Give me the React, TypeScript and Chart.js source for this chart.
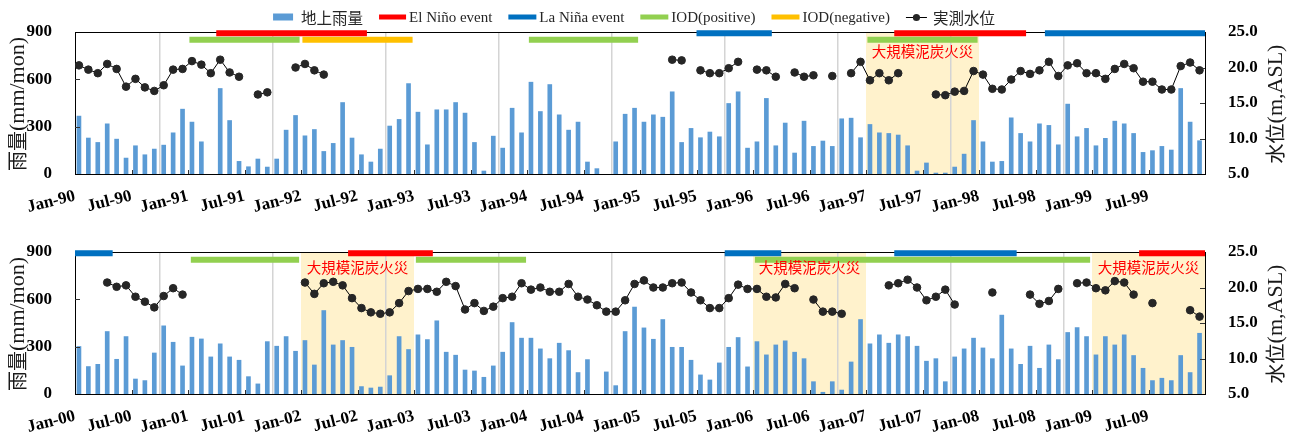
import React, { useEffect, useRef } from 'react';
import { Chart, registerables } from 'chart.js';

Chart.register(...registerables);

// ---------------- DATA ----------------
// monthly ground rainfall (mm/mon), Jan-1990 .. Dec-1999
const rain1990s: (number | null)[] = [
  367, 228, 200, 318, 221, 101, 179, 122, 158, 183, 261, 411,
  329, 204, null, 542, 339, 80, 46, 95, 44, 95, 278, 371,
  242, 282, 143, 194, 453, 228, 122, 76, 158, 304, 346, 573,
  392, 185, 407, 407, 453, 386, 200, 19, 240, 164, 417, 261,
  582, 396, 567, 375, 278, 329, 76, 34, null, 204, 379, 417,
  329, 375, 360, 521, 200, 289, 230, 266, 236, 447, 521, 164,
  204, 479, 179, 323, 133, 335, 175, 209, 175, 350, 354, 230,
  314, 261, 257, 247, 179, 19, 70, 6, 6, 44, 126, 339,
  204, 76, 80, 356, 257, 204, 318, 308, 185, 443, 236, 289,
  179, 226, 335, 318, 257, 137, 148, 175, 152, 542, 329, 211,
];

// measured water level (m,ASL), Jan-1990 .. Dec-1999
const level1990s: (number | null)[] = [
  20.3, 19.7, 19.2, 20.5, 19.8, 17.3, 18.4, 17.2, 16.7, 17.5, 19.7, 19.8,
  20.9, 20.4, 19.2, 21.1, 19.3, 18.7, null, 16.2, 16.5, null, null, 20.0,
  20.5, 19.6, 19.0, null, null, null, null, null, null, null, null, null,
  null, null, null, null, null, null, null, null, null, null, null, null,
  null, null, null, null, null, null, null, null, null, null, null, null,
  null, null, null, 21.1, 21.0, null, 19.6, 19.2, 19.2, 19.9, 20.8, null,
  19.7, 19.6, 18.7, null, 19.3, 18.7, 18.9, null, 18.8, null, 19.2, 20.8,
  18.2, 19.2, 18.2, 19.2, null, null, null, 16.2, 16.1, 16.6, 16.7, 19.5,
  19.0, 17.0, 16.9, 18.3, 19.5, 19.1, 19.6, 20.8, 18.8, 20.3, 20.6, 19.2,
  19.2, 18.4, 19.8, 20.5, 19.9, 18.0, 18.0, 16.9, 16.9, 20.2, 20.7, 19.6,
];

// monthly ground rainfall (mm/mon), Jan-2000 .. Dec-2009
const rain2000s: (number | null)[] = [
  301, 174, 188, 396, 220, 364, 95, 85, 260, 432, 328, 178,
  360, 349, 235, 318, 235, 214, 110, 64, 332, 303, 364, 271,
  339, 184, 529, 311, 339, 296, 47, 38, 44, 116, 364, 282,
  375, 345, 464, 265, 246, 152, 146, 106, 178, 265, 453, 354,
  354, 286, 224, 322, 275, 136, 218, null, 140, 53, 396, 551,
  419, 347, 472, 296, 296, 214, 121, 89, 197, 296, 358, 172,
  332, 248, 311, 337, 265, 224, 78, 11, 78, 25, 203, 472,
  318, 375, 322, 375, 364, 303, 208, 224, 78, 235, 286, 354,
  292, 224, 500, 286, 188, 303, 163, 311, 218, 390, 421, 364,
  248, 364, 311, 375, 244, 163, 85, 100, 85, 244, 136, 385,
];

// measured water level (m,ASL), Jan-2000 .. Dec-2009
const level2000s: (number | null)[] = [
  null, null, null, 20.7, 20.1, 20.3, 18.7, 18.0, 17.2, 18.8, 19.9, 19.0,
  null, null, null, null, null, null, null, null, null, null, null, null,
  20.7, 19.1, 20.6, 20.8, 20.3, 18.5, 17.1, 16.5, 16.3, 16.5, 17.8, 19.5,
  19.8, 19.8, 19.4, 20.8, 20.2, 16.9, 17.8, 16.7, 17.3, 18.5, 18.7, 20.6,
  19.7, 20.0, 19.4, 19.4, 20.5, 18.7, 18.3, 17.5, 16.6, 16.6, 18.2, 20.5,
  21.0, 20.0, 20.0, 20.6, 20.7, 19.3, 18.2, 17.1, 17.1, 18.5, 20.4, 19.8,
  19.8, 18.7, 18.6, 20.5, 19.9, null, 18.3, 16.6, 16.6, 16.3, null, null,
  null, null, 20.3, 20.6, 21.1, 20.0, 18.2, 18.7, 19.7, 17.6, null, null,
  null, 19.3, null, null, null, 19.0, 17.7, 18.1, 19.8, null, 20.6, 20.7,
  19.9, 19.6, 20.9, 20.7, 19.0, null, 17.8, null, null, null, 16.8, 15.9,
];

// x tick labels (every 6 months)
const ticks1990s = [
  'Jan-90', 'Jul-90', 'Jan-91', 'Jul-91', 'Jan-92', 'Jul-92', 'Jan-93', 'Jul-93', 'Jan-94', 'Jul-94',
  'Jan-95', 'Jul-95', 'Jan-96', 'Jul-96', 'Jan-97', 'Jul-97', 'Jan-98', 'Jul-98', 'Jan-99', 'Jul-99',
];
const ticks2000s = [
  'Jan-00', 'Jul-00', 'Jan-01', 'Jul-01', 'Jan-02', 'Jul-02', 'Jan-03', 'Jul-03', 'Jan-04', 'Jul-04',
  'Jan-05', 'Jul-05', 'Jan-06', 'Jul-06', 'Jan-07', 'Jul-07', 'Jan-08', 'Jul-08', 'Jan-09', 'Jul-09',
];
const rainTicks = [0, 300, 600, 900];
const levelTicks = [5, 10, 15, 20, 25];

// event periods, in months from the start of each decade [start, end]
const elNino1990s = [[15, 31], [87, 101]];
const laNina1990s = [[66, 74], [103, 120]];
const iodPos1990s = [[12.15, 23.85], [48.2, 59.8], [84.15, 95.85]];
const iodNeg1990s = [[24.15, 35.85]];
const fires1990s = [[84, 96]];

const elNino2000s = [[29, 38], [113, 120]];
const laNina2000s = [[0, 4], [69, 75], [87, 100]];
const iodPos2000s = [[12.3, 23.8], [36.2, 47.9], [72.2, 107.8]];
const iodNeg2000s: number[][] = [];
const fires2000s = [[24, 36], [72, 84], [108, 120]];

const fireLabel = '大規模泥炭火災';
const rainName = '地上雨量';
const levelName = '実測水位';
const elNinoName = 'El Niño event';
const laNinaName = 'La Niña event';
const iodPosName = 'IOD(positive)';
const iodNegName = 'IOD(negative)';

// ---------------- STYLE ----------------
const SERIF = '"Liberation Serif", "Times New Roman", serif';
const CJK = '"Noto Sans CJK JP", "Noto Sans CJK SC", sans-serif';
const C_RAIN = '#5B9BD5';
const C_ELNINO = '#FF0000';
const C_LANINA = '#0070C0';
const C_IODPOS = '#92D050';
const C_IODNEG = '#FFC000';
const C_FIRE = '#FFF2CC';
const BAR_OFFSET = 0.42;
const ROW1 = 892;
const ROW2 = 851;

function segs(periods: number[][], y: number) {
  const out: { x: number; y: number | null }[] = [];
  periods.forEach(([a, b]) => {
    out.push({ x: a, y }, { x: b, y }, { x: b, y: null });
  });
  return out;
}

function drawTitle(ctx: CanvasRenderingContext2D, cx: number, cy: number, cjk: string, latin: string) {
  ctx.save();
  ctx.translate(cx, cy);
  ctx.rotate(-Math.PI / 2);
  ctx.fillStyle = '#1a1a1a';
  ctx.textBaseline = 'middle';
  ctx.textAlign = 'left';
  const f1 = `20px ${CJK}`;
  const f2 = `22px ${SERIF}`;
  ctx.font = f1;
  const w1 = ctx.measureText(cjk).width;
  ctx.font = f2;
  const w2 = ctx.measureText(latin).width;
  const start = -(w1 + w2) / 2;
  ctx.font = f1;
  ctx.fillText(cjk, start, 0);
  ctx.font = f2;
  ctx.fillText(latin, start + w1, 1);
  ctx.restore();
}

function drawLegend(ctx: CanvasRenderingContext2D, cy: number, center: number) {
  type Item = { kind: 'rect' | 'bar' | 'marker'; color: string; w: number; h: number; gap: number; label: string; font: string };
  const items: Item[] = [
    { kind: 'rect', color: C_RAIN, w: 20, h: 7, gap: 8, label: rainName, font: `15.5px ${CJK}` },
    { kind: 'bar', color: C_ELNINO, w: 27, h: 5, gap: 3, label: elNinoName, font: `15px ${SERIF}` },
    { kind: 'bar', color: C_LANINA, w: 28, h: 5, gap: 3, label: laNinaName, font: `15px ${SERIF}` },
    { kind: 'bar', color: C_IODPOS, w: 28, h: 5, gap: 3, label: iodPosName, font: `15px ${SERIF}` },
    { kind: 'bar', color: C_IODNEG, w: 28, h: 5, gap: 3, label: iodNegName, font: `15px ${SERIF}` },
    { kind: 'marker', color: '#262626', w: 21, h: 0, gap: 6, label: levelName, font: `15.5px ${CJK}` },
  ];
  const between = 16;
  ctx.save();
  const widths = items.map((it) => {
    ctx.font = it.font;
    return it.w + it.gap + ctx.measureText(it.label).width;
  });
  const total = widths.reduce((a, b) => a + b, 0) + between * (items.length - 1);
  let x = center - total / 2;
  items.forEach((it, k) => {
    if (it.kind === 'marker') {
      ctx.strokeStyle = '#000';
      ctx.lineWidth = 1;
      ctx.beginPath();
      ctx.moveTo(x, cy + 0.5);
      ctx.lineTo(x + it.w, cy + 0.5);
      ctx.stroke();
      ctx.fillStyle = it.color;
      ctx.beginPath();
      ctx.arc(x + it.w / 2, cy + 0.5, 3.6, 0, Math.PI * 2);
      ctx.fill();
    } else {
      ctx.fillStyle = it.color;
      ctx.fillRect(x, cy - it.h / 2, it.w, it.h);
    }
    ctx.font = it.font;
    ctx.fillStyle = '#262626';
    ctx.textAlign = 'left';
    ctx.textBaseline = 'middle';
    ctx.fillText(it.label, x + it.w + it.gap, cy + 1);
    x += widths[k] + between;
  });
  ctx.restore();
}

function makeDecor(fires: number[][], labelDy: number, withLegend: boolean) {
  return {
    id: 'panelDecor',
    beforeDraw(chart: any) {
      const { ctx, chartArea: a, scales } = chart;
      ctx.save();
      ctx.fillStyle = C_FIRE;
      fires.forEach(([s, e]) => {
        const x0 = scales.x.getPixelForValue(s);
        const x1 = scales.x.getPixelForValue(e);
        ctx.fillRect(x0, a.top, x1 - x0, a.bottom - a.top);
      });
      ctx.restore();
    },
    beforeDatasetsDraw(chart: any) {
      const { ctx, chartArea: a } = chart;
      ctx.save();
      ctx.strokeStyle = '#000';
      ctx.lineWidth = 1;
      ctx.strokeRect(Math.round(a.left) + 0.5, Math.round(a.top) + 0.5, Math.round(a.right - a.left), Math.round(a.bottom - a.top));
      ctx.restore();
    },
    afterDatasetsDraw(chart: any) {
      const { ctx, chartArea: a, scales } = chart;
      ctx.save();
      // inner tick marks
      ctx.strokeStyle = '#333';
      ctx.lineWidth = 1;
      ctx.beginPath();
      for (let v = 6; v < 120; v += 6) {
        const px = Math.round(scales.x.getPixelForValue(v)) + 0.5;
        ctx.moveTo(px, a.bottom);
        ctx.lineTo(px, a.bottom - 4);
      }
      rainTicks.slice(1, -1).forEach((v) => {
        const py = Math.round(scales.y.getPixelForValue(v)) + 0.5;
        ctx.moveTo(a.left, py);
        ctx.lineTo(a.left + 5, py);
      });
      levelTicks.slice(1, -1).forEach((v) => {
        const py = Math.round(scales.y2.getPixelForValue(v)) + 0.5;
        ctx.moveTo(a.right, py);
        ctx.lineTo(a.right - 5, py);
      });
      ctx.stroke();
      // fire labels
      ctx.fillStyle = '#FF0000';
      ctx.font = `14.5px ${CJK}`;
      ctx.textAlign = 'center';
      ctx.textBaseline = 'middle';
      fires.forEach(([s, e]) => {
        const cx = (scales.x.getPixelForValue(s) + scales.x.getPixelForValue(e)) / 2;
        ctx.fillText(fireLabel, cx, a.top + labelDy);
      });
      ctx.restore();
    },
    afterDraw(chart: any) {
      const { ctx, chartArea: a } = chart;
      const cy = (a.top + a.bottom) / 2 + 1;
      drawTitle(ctx, 17, cy, '雨量', '(mm/mon)');
      drawTitle(ctx, 1275, cy, '水位', '(m,ASL)');
      if (withLegend) drawLegend(ctx, 17, 634);
    },
  };
}

function buildChart(
  canvas: HTMLCanvasElement,
  rain: (number | null)[],
  level: (number | null)[],
  labels: string[],
  elNino: number[][],
  laNina: number[][],
  iodPos: number[][],
  iodNeg: number[][],
  fires: number[][],
  xHeight: number,
  labelDy: number,
  withLegend: boolean,
) {
  const tickFont = { family: SERIF, size: 17, weight: 'bold' as const };
  const eventDs = (periods: number[][], row: number, color: string) => ({
    type: 'line' as const,
    data: segs(periods, row),
    borderColor: color,
    backgroundColor: color,
    borderWidth: 6,
    borderCapStyle: 'butt' as const,
    pointRadius: 0,
    spanGaps: false,
    clip: false as any,
    yAxisID: 'y',
    order: 1,
  });
  return new Chart(canvas, {
    type: 'bar',
    data: {
      datasets: [
        {
          type: 'line',
          label: levelName,
          data: level.map((v, i) => ({ x: i + BAR_OFFSET, y: v })),
          borderColor: '#000',
          borderWidth: 1,
          pointRadius: 3.8,
          pointBorderWidth: 1,
          pointBackgroundColor: '#262626',
          pointBorderColor: '#262626',
          spanGaps: false,
          tension: 0,
          yAxisID: 'y2',
          order: 0,
        } as any,
        eventDs(elNino, ROW1, C_ELNINO),
        eventDs(laNina, ROW1, C_LANINA),
        eventDs(iodPos, ROW2, C_IODPOS),
        eventDs(iodNeg, ROW2, C_IODNEG),
        {
          type: 'bar',
          label: rainName,
          data: rain.map((v, i) => ({ x: i + BAR_OFFSET, y: v })),
          backgroundColor: C_RAIN,
          barThickness: 4,
          grouped: false,
          yAxisID: 'y',
          order: 3,
        } as any,
      ],
    },
    options: {
      animation: false,
      responsive: false,
      events: [],
      layout: { padding: { top: 32, left: 0, right: 0, bottom: 0 } },
      plugins: { legend: { display: false }, tooltip: { enabled: false } },
      scales: {
        x: {
          type: 'linear',
          min: 0,
          max: 120,
          offset: false,
          afterBuildTicks: (s: any) => {
            s.ticks = Array.from({ length: 21 }, (_, k) => ({ value: k * 6 }));
          },
          afterFit: (s: any) => {
            s.height = xHeight;
          },
          grid: {
            drawTicks: false,
            lineWidth: 1.5,
            color: (c: any) =>
              c.tick && c.tick.value % 12 === 0 && c.tick.value > 0 && c.tick.value < 120 ? '#D4D4D4' : 'rgba(0,0,0,0)',
          },
          border: { display: false },
          ticks: {
            autoSkip: false,
            minRotation: 14,
            maxRotation: 14,
            padding: 12,
            color: '#000',
            font: { family: SERIF, size: 17, weight: 'bold' },
            callback: (_v: any, i: number) => labels[i] ?? '',
          },
        },
        y: {
          position: 'left',
          min: 0,
          max: 900,
          afterBuildTicks: (s: any) => {
            s.ticks = rainTicks.map((v) => ({ value: v }));
          },
          afterFit: (s: any) => {
            s.width = 75;
          },
          grid: { display: false },
          border: { display: false },
          ticks: { padding: 15, color: '#000', font: tickFont },
        },
        y2: {
          position: 'right',
          min: 5,
          max: 25,
          afterBuildTicks: (s: any) => {
            s.ticks = levelTicks.map((v) => ({ value: v }));
          },
          afterFit: (s: any) => {
            s.width = 88;
          },
          grid: { display: false },
          border: { display: false },
          ticks: {
            padding: 15,
            color: '#000',
            font: tickFont,
            callback: (v: any) => Number(v).toFixed(1),
          },
        },
      },
    } as any,
    plugins: [makeDecor(fires, labelDy, withLegend)],
  });
}

export default function App() {
  const topRef = useRef<HTMLCanvasElement>(null);
  const botRef = useRef<HTMLCanvasElement>(null);

  useEffect(() => {
    const c1 = buildChart(
      topRef.current!, rain1990s, level1990s, ticks1990s,
      elNino1990s, laNina1990s, iodPos1990s, iodNeg1990s, fires1990s,
      46, 19, true,
    );
    const c2 = buildChart(
      botRef.current!, rain2000s, level2000s, ticks2000s,
      elNino2000s, laNina2000s, iodPos2000s, iodNeg2000s, fires2000s,
      43, 15.5, false,
    );
    return () => {
      c1.destroy();
      c2.destroy();
    };
  }, []);

  return (
    <div style={{ position: 'absolute', left: 0, top: 0, width: 1293, height: 437, background: '#fff' }}>
      <canvas ref={topRef} width={1293} height={220} style={{ position: 'absolute', left: 0, top: 0, width: 1293, height: 220 }} />
      <canvas ref={botRef} width={1293} height={217} style={{ position: 'absolute', left: 0, top: 220, width: 1293, height: 217 }} />
    </div>
  );
}
